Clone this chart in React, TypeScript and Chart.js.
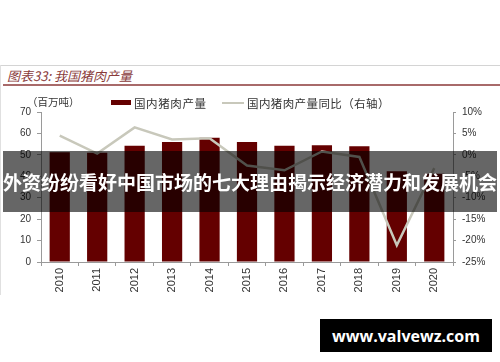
import React, { useEffect, useRef } from "react";
import { Chart, registerables } from "chart.js";

Chart.register(...registerables);

const years = ["2010", "2011", "2012", "2013", "2014", "2015", "2016", "2017", "2018", "2019", "2020"];
const porkOutput = [51.2, 51.0, 54.2, 56.0, 58.0, 56.0, 54.2, 54.5, 54.0, 42.4, 41.2];
const porkYoY = [4.5, 0.3, 6.4, 3.6, 3.9, -2.5, -3.6, 0.8, -0.5, -21.1, -3.1];
const leftTicks = { min: 0, max: 70, step: 10 };
const rightTicks = { min: -25, max: 10, step: 5 };

const titleText = "图表33: 我国猪肉产量";
const unitText = "（百万吨）";
const barLabel = "国内猪肉产量";
const lineLabel = "国内猪肉产量同比（右轴）";
const bannerText = "外资纷纷看好中国市场的七大理由揭示经济潜力和发展机会";
const watermarkText = "www.valvewz.com";

const BAR_COLOR = "#640000";
const LINE_COLOR = "#c8c8bb";
const AXIS_COLOR = "#9a9a9a";
const TICK_FONT = "'Liberation Sans', Arial, sans-serif";
const CJK_FONT = "'Noto Sans CJK SC', 'Noto Sans', sans-serif";

function ChartBox() {
  const ref = useRef<HTMLCanvasElement | null>(null);
  useEffect(() => {
    if (!ref.current) return;
    const chart = new Chart(ref.current, {
      type: "bar",
      data: {
        labels: years,
        datasets: [
          {
            type: "line",
            label: lineLabel,
            data: porkYoY,
            yAxisID: "y1",
            borderColor: LINE_COLOR,
            borderWidth: 2.5,
            pointRadius: 0,
            tension: 0,
            order: 0,
          } as any,
          {
            type: "bar",
            label: barLabel,
            data: porkOutput,
            yAxisID: "y",
            backgroundColor: BAR_COLOR,
            categoryPercentage: 1,
            barPercentage: 0.54,
            order: 1,
          },
        ],
      },
      options: {
        animation: false,
        responsive: true,
        maintainAspectRatio: false,
        layout: { padding: { top: 22, left: 0, right: 0, bottom: 0 } },
        plugins: { legend: { display: false }, tooltip: { enabled: false } },
        scales: {
          x: {
            offset: true,
            grid: { drawOnChartArea: false, drawTicks: true, tickLength: 4, color: AXIS_COLOR, offset: true },
            border: { color: AXIS_COLOR },
            ticks: { maxRotation: 90, minRotation: 90, padding: 2, color: "#333", font: { size: 11, family: TICK_FONT } },
            afterFit: (s: any) => { s.height = 33; },
          },
          y: {
            position: "left",
            min: leftTicks.min,
            max: leftTicks.max,
            grid: { drawOnChartArea: false, drawTicks: true, tickLength: 4, color: AXIS_COLOR },
            border: { color: AXIS_COLOR },
            ticks: { stepSize: leftTicks.step, padding: 6, color: "#333", font: { size: 10, family: TICK_FONT } },
            afterFit: (s: any) => { s.width = 41; },
          },
          y1: {
            position: "right",
            min: rightTicks.min,
            max: rightTicks.max,
            grid: { drawOnChartArea: false, drawTicks: true, tickLength: 3, color: AXIS_COLOR },
            border: { color: AXIS_COLOR },
            ticks: {
              stepSize: rightTicks.step,
              padding: 6,
              color: "#333",
              font: { size: 10, family: TICK_FONT },
              callback: (v: any) => `${v}%`,
            },
            afterFit: (s: any) => { s.width = 47; },
          },
        },
      },
    });
    return () => chart.destroy();
  }, []);
  return <canvas ref={ref} />;
}

export default function App() {
  return (
    <div style={{ position: "fixed", left: 0, top: 0, width: 500, height: 362, background: "#fff", overflow: "hidden" }}>
      {/* frame lines */}
      <div style={{ position: "absolute", left: 0, top: 65, width: 500, height: 1, background: "#d4d4d4" }} />
      <div style={{ position: "absolute", left: 0, top: 65, width: 1, height: 230, background: "#e0e0e0" }} />
      {/* title */}
      <div style={{ position: "absolute", left: 7, top: 68, fontFamily: CJK_FONT, fontSize: 13, fontStyle: "italic", color: "#8a3b3b", lineHeight: "16px", whiteSpace: "nowrap" }}>
        {titleText}
      </div>
      <div style={{ position: "absolute", left: 3, top: 84, width: 497, height: 2, background: "#a86a6a" }} />
      {/* chart */}
      <div style={{ position: "absolute", left: 0, top: 90, width: 500, height: 205 }}>
        <ChartBox />
      </div>
      {/* legend & unit */}
      <div style={{ position: "absolute", left: 27, top: 94, fontFamily: CJK_FONT, fontSize: 10.5, color: "#333", lineHeight: "16px", whiteSpace: "nowrap" }}>
        {unitText}
      </div>
      <div style={{ position: "absolute", left: 111, top: 100, width: 20, height: 5, background: BAR_COLOR }} />
      <div style={{ position: "absolute", left: 134, top: 95, fontFamily: CJK_FONT, fontSize: 11.5, color: "#333", lineHeight: "16px", letterSpacing: 0.6, whiteSpace: "nowrap" }}>
        {barLabel}
      </div>
      <div style={{ position: "absolute", left: 222, top: 102, width: 22, height: 2, background: LINE_COLOR }} />
      <div style={{ position: "absolute", left: 247, top: 95, fontFamily: CJK_FONT, fontSize: 11.5, color: "#333", lineHeight: "16px", letterSpacing: 0.4, whiteSpace: "nowrap" }}>
        {lineLabel}
      </div>
      {/* banner overlay */}
      <div style={{ position: "absolute", left: 3, top: 151, width: 494, height: 61, background: "rgba(0,0,0,0.6)", display: "flex", alignItems: "center", justifyContent: "center" }}>
        <span style={{ fontFamily: CJK_FONT, fontWeight: 700, fontSize: 19, color: "#fff", whiteSpace: "nowrap", lineHeight: "24px" }}>
          {bannerText}
        </span>
      </div>
      {/* watermark */}
      <div style={{ position: "absolute", left: 320, top: 319, width: 172, height: 33, background: "#000", display: "flex", alignItems: "center", justifyContent: "center" }}>
        <span style={{ fontFamily: "'Open Sans', 'DejaVu Sans', sans-serif", fontWeight: 700, fontSize: 16, color: "#fff", whiteSpace: "nowrap" }}>
          {watermarkText}
        </span>
      </div>
    </div>
  );
}
